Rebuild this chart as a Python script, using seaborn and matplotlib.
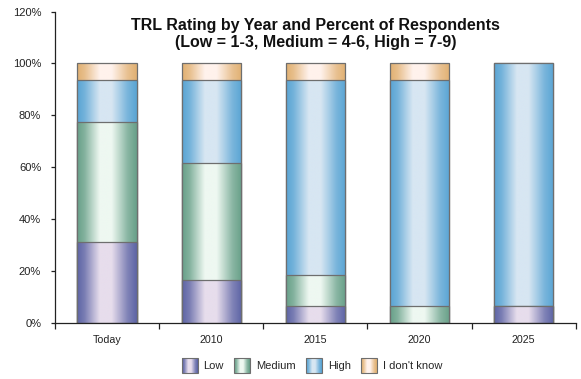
import numpy as np
import pandas as pd
import matplotlib
matplotlib.use("Agg")
import matplotlib.pyplot as plt
import seaborn as sns
from matplotlib.patches import Rectangle, Patch
from matplotlib.legend_handler import HandlerBase
from matplotlib.colors import to_rgb
from matplotlib.ticker import FixedLocator, PercentFormatter

# Survey data: share of respondents per TRL band (percent)
categories = ["Today", "2010", "2015", "2020", "2025"]
low = [31.0, 16.5, 6.5, 0.0, 6.5]
medium = [46.5, 45.0, 12.0, 6.5, 0.0]
high = [16.0, 32.0, 75.0, 87.0, 93.5]
dont_know = [6.5, 6.5, 6.5, 6.5, 0.0]
series_names = ["Low", "Medium", "High", "I don't know"]
y_ticks = [0, 20, 40, 60, 80, 100, 120]

# (dark edge colour, light centre colour) for each band
palette = {
    "Low": ("#5e65a5", "#e7ddec"),
    "Medium": ("#68a089", "#eef8f1"),
    "High": ("#5aa5d4", "#d7e6f2"),
    "I don't know": ("#e1b173", "#fff2ec"),
}
EDGE = "#6e6e6e"

sns.set_theme(style="white")
plt.rcParams["font.family"] = ["Liberation Sans", "DejaVu Sans"]

df = pd.DataFrame({
    "Year": categories,
    "Low": low,
    "Medium": medium,
    "High": high,
    "I don't know": dont_know,
})
# cumulative tops, drawn from tallest to shortest so each layer covers the next
cum = df[series_names].cumsum(axis=1)


def gradient_row(dark, light, n=64):
    t = np.linspace(0, 1, n)
    mix = np.interp(t, [0, 0.12, 0.38, 0.58, 0.85, 1.0],
                    [0.0, 0.2, 1.0, 1.0, 0.25, 0.0])
    d = np.array(to_rgb(dark))
    l = np.array(to_rgb(light))
    return d[None, :] * (1 - mix[:, None]) + l[None, :] * mix[:, None]


fig = plt.figure(figsize=(5.81, 3.79), dpi=100)
ax = fig.add_axes([0.0947, 0.1485, 0.8963, 0.821])

layer = 0
for name in reversed(series_names):
    before = len(ax.patches)
    sns.barplot(x=df["Year"], y=cum[name], ax=ax, width=0.57,
                color="white", edgecolor=EDGE, linewidth=0.9)
    dark, light = palette[name]
    row = gradient_row(dark, light)
    for p in ax.patches[before:]:
        p.set_facecolor("none")
        p.set_zorder(3 + 2 * layer + 1)
        x0, y0 = p.get_x(), p.get_y()
        w, h = p.get_width(), p.get_height()
        if h <= 0:
            continue
        img = ax.imshow(row[None, :, :], extent=(x0, x0 + w, y0, y0 + h),
                        aspect="auto", interpolation="bilinear",
                        zorder=3 + 2 * layer, origin="lower")
        img.set_clip_path(p)
    layer += 1

ax.set_xlim(-0.5, 4.5)
ax.set_ylim(0, 120)
ax.set_xlabel("")
ax.set_ylabel("")

ax.yaxis.set_major_locator(FixedLocator(y_ticks))
ax.yaxis.set_major_formatter(PercentFormatter(decimals=0))
ax.set_xticks(range(len(categories)))
ax.set_xticklabels(categories)
ax.xaxis.set_minor_locator(FixedLocator(np.arange(-0.5, 5, 1.0)))

for side in ("top", "right"):
    ax.spines[side].set_visible(False)
for side in ("left", "bottom"):
    ax.spines[side].set_color("#222222")
    ax.spines[side].set_linewidth(0.9)
    ax.spines[side].set_zorder(20)

ax.tick_params(axis="y", which="major", direction="out", length=3, width=0.9,
               color="#222222", pad=7, labelsize=8, labelcolor="#222222", left=True)
ax.tick_params(axis="x", which="major", length=0, pad=9, labelsize=7.7,
               labelcolor="#222222", bottom=True)
ax.tick_params(axis="x", which="minor", direction="out", length=4, width=0.9,
               color="#222222", bottom=True)

ax.text(0.5, 0.978,
        "TRL Rating by Year and Percent of Respondents\n(Low = 1-3, Medium = 4-6, High = 7-9)",
        transform=ax.transAxes, ha="center", va="top", fontsize=11.5,
        fontweight="bold", color="#111111", linespacing=1.15, zorder=30)


class GradientHandler(HandlerBase):
    def __init__(self, dark, light):
        super().__init__()
        self.row = gradient_row(dark, light, n=16)

    def create_artists(self, legend, orig_handle, xdescent, ydescent,
                       width, height, fontsize, trans):
        arts = []
        n = len(self.row)
        y0 = -ydescent - 2.0
        hh = height + 4.0
        for k, c in enumerate(self.row):
            arts.append(Rectangle((-xdescent + k * width / n, y0),
                                  width / n * 1.05, hh, facecolor=c,
                                  edgecolor="none", transform=trans))
        arts.append(Rectangle((-xdescent, y0), width, hh,
                              facecolor="none", edgecolor=EDGE, linewidth=0.8,
                              transform=trans))
        return arts


handles = [Patch(label=n) for n in series_names]
handler_map = {h: GradientHandler(*palette[h.get_label()]) for h in handles}
fig.legend(handles=handles, labels=series_names, handler_map=handler_map,
           loc="center", bbox_to_anchor=(312 / 581, 1 - 366 / 379),
           ncol=4, frameon=False, fontsize=8, handlelength=1.45,
           handleheight=1.0, handletextpad=0.5, columnspacing=0.95)

fig.savefig("out.png", dpi=100)
